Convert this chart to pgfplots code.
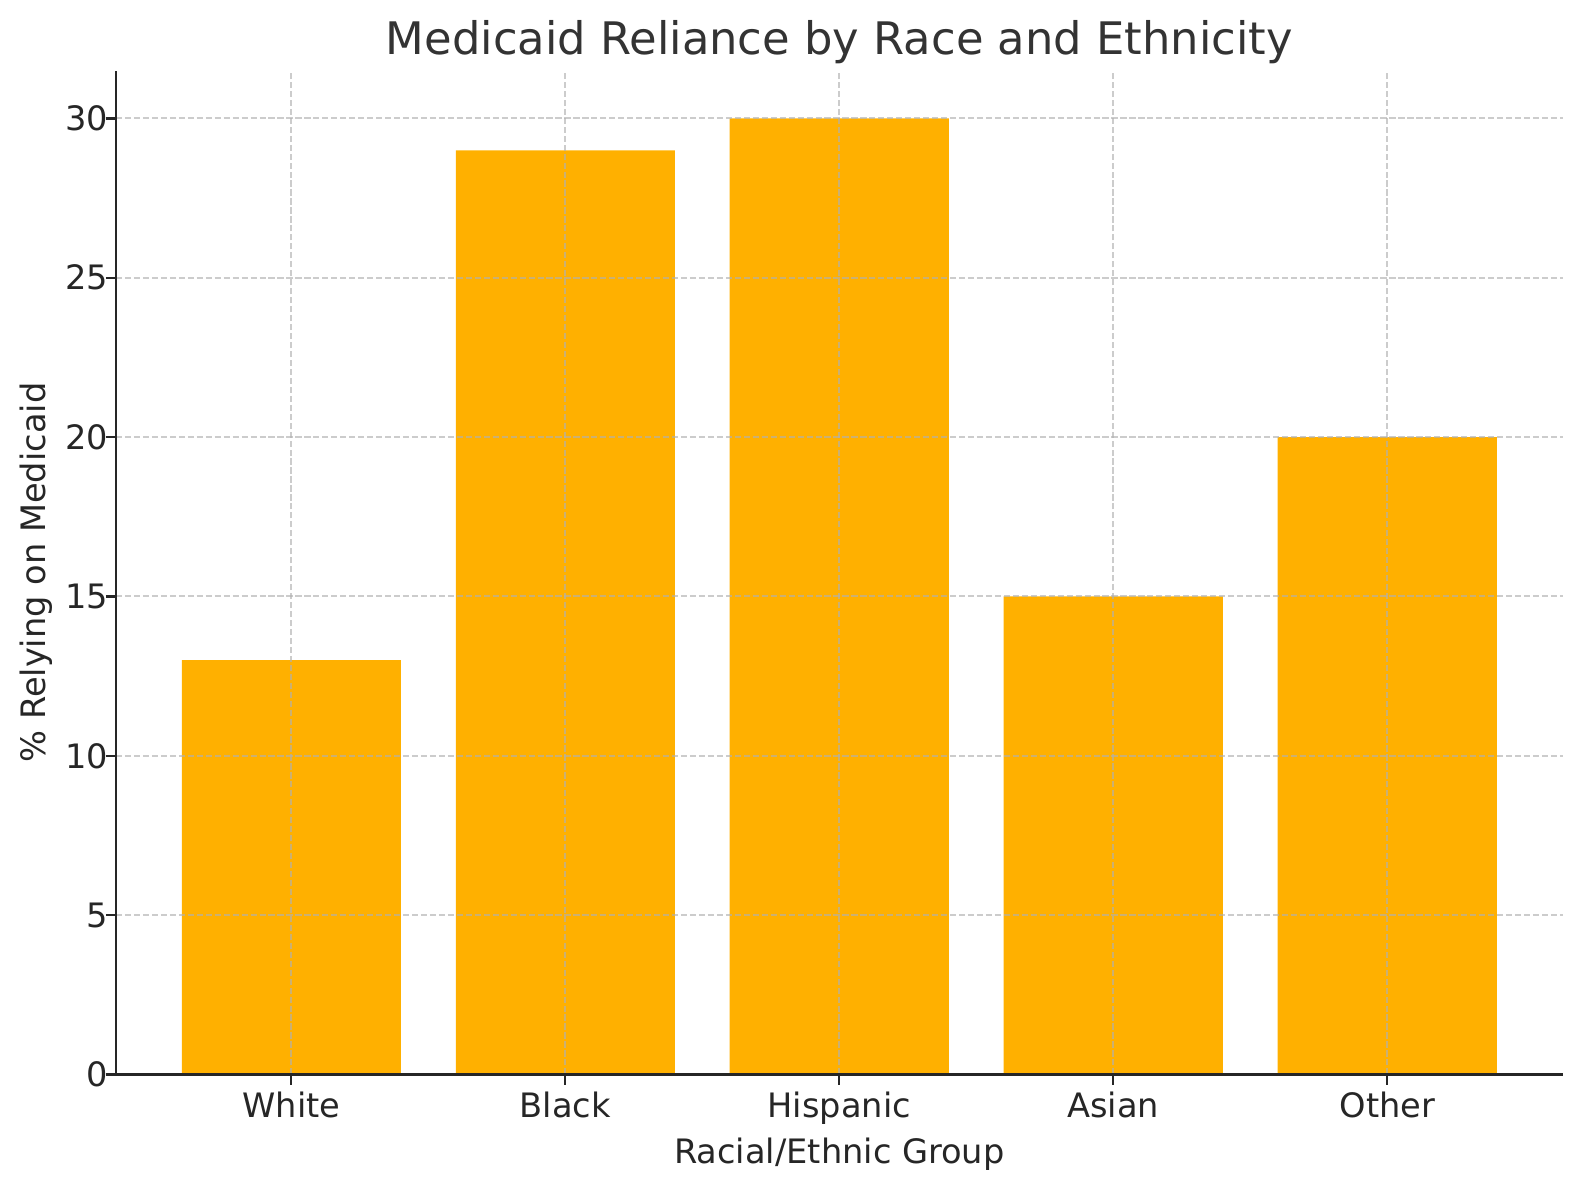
\documentclass[border=0pt]{standalone}
\usepackage{fontspec}
\setmainfont{DejaVu Sans}
\usepackage{pgfplots}
\pgfplotsset{compat=1.18}
\definecolor{barorange}{HTML}{FFB000}
\definecolor{gridgray}{HTML}{B0B0B0}
\definecolor{txt}{HTML}{262626}
\begin{document}
\begin{tikzpicture}
% page frame: axis box sits at the origin
\useasboundingbox (-41.4pt,-37.6pt) rectangle (522.4pt,383.4pt);
\begin{axis}[
  at={(0pt,0pt)}, anchor=south west,
  scale only axis,
  width=516.2pt, height=358.2pt,
  xmin=-0.64, xmax=4.64,
  ymin=0, ymax=31.5,
  xtick={0,1,2,3,4},
  xticklabels={White, Black, Hispanic, Asian, Other},
  ytick={0,5,10,15,20,25,30},
  axis x line*=bottom, axis y line*=left,
  axis line style={line width=0.8pt, black!85},
  tick style={line width=0.8pt, black!85},
  tick align=outside,
  major tick length=3.6pt,
  axis on top,
  xmajorgrids, ymajorgrids,
  grid style={gridgray, opacity=0.65, line width=0.7pt, dash pattern=on 2.2pt off 1pt},
  ticklabel style={font=\fontsize{12}{14}\selectfont, text=txt},
  xticklabel style={yshift=1pt},
  yticklabel style={xshift=4.3pt},
  /pgf/number format/assume math mode=true,
  title={Medicaid Reliance by Race and Ethnicity},
  every axis title shift=0pt,
  title style={font=\fontsize{16}{19}\selectfont, text=black!80, at={(axis description cs:0.5,1.016)}, anchor=base},
  xlabel={Racial/Ethnic Group},
  ylabel={\% Relying on Medicaid},
  xlabel style={font=\fontsize{12}{14}\selectfont, text=txt, at={(axis description cs:0.5,-0.0885)}, anchor=base},
  ylabel style={font=\fontsize{12}{14}\selectfont, text=txt, at={(axis description cs:-0.0368,0.5)}, anchor=south},
]
\addplot[ybar, bar width=0.8, fill=barorange, draw=none]
  coordinates {(0,13) (1,29) (2,30) (3,15) (4,20)};
\end{axis}
\end{tikzpicture}
\end{document}
